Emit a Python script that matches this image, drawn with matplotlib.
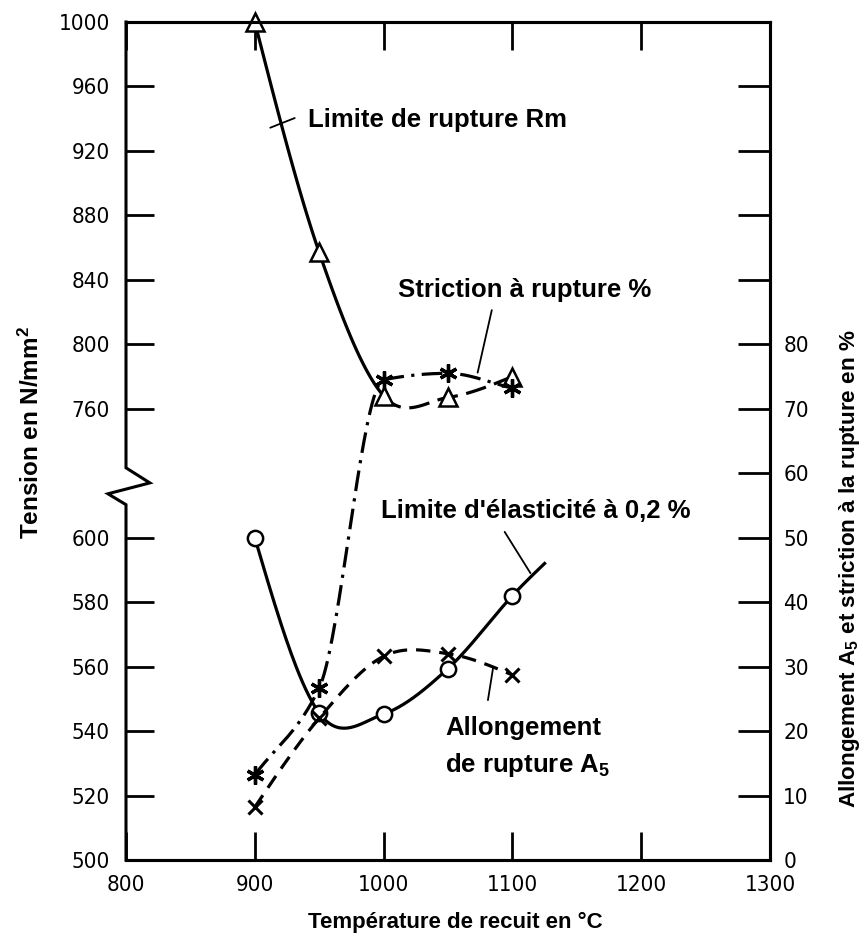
#recuit : caracteristiques mecaniques en fonction de la temperature
import numpy as np
import matplotlib
matplotlib.use('Agg')
import matplotlib.pyplot as plt
from matplotlib import font_manager as fm
from matplotlib.ticker import FixedLocator, FixedFormatter, NullLocator
from matplotlib.lines import Line2D

# temperatures de recuit (C)
temp = [900, 950, 1000, 1050, 1100]
# axe gauche, N/mm2
rm = [1000, 857, 768, 767, 780]
rp02 = [600, 545.6, 545.3, 559.4, 582]
rp02_end = [1125, 592]          # the line runs on past the last circle
# axe droit, %
a5 = [8.2, 22, 31.6, 32, 28.7]
striction = [13.2, 26.7, 74.5, 75.5, 73.2]

xticks = [800, 900, 1000, 1100, 1200, 1300]
left_ticks = [500, 520, 540, 560, 580, 600, 760, 800, 840, 880, 920, 960, 1000]
right_ticks = list(range(0, 131, 10))
right_labels = [str(v) if v <= 80 else '' for v in right_ticks]

# narrow digits if some condensed face is installed
num_family, num_stretch, num_size = 'Liberation Sans', 'normal', 16
for f in fm.fontManager.ttflist:
    if f.name == 'Liberation Sans Narrow':
        num_family, num_stretch, num_size = 'Liberation Sans Narrow', 'normal', 18
        break
    if f.name == 'DejaVu Sans' and f.stretch in ('condensed', 'semi-condensed') and f.weight in (400, 'normal'):
        num_family, num_stretch, num_size = 'DejaVu Sans', 'condensed', 16

plt.rcParams['font.family'] = ['Liberation Sans', 'DejaVu Sans']
plt.rcParams['mathtext.default'] = 'regular'

W, H = 863, 947

# broken left scale: 500-600 below, 760-1000 above
def fwd(v):
    v = np.asarray(v, float)
    return np.where(v <= 600, (v - 500) / 2,
                    np.where(v < 760, 50 + (v - 600) / 8, 70 + (v - 760) / 4))

def inv(u):
    u = np.asarray(u, float)
    return np.where(u <= 50, 500 + 2 * u,
                    np.where(u < 70, 600 + 8 * (u - 50), 760 + 4 * (u - 70)))

#smooth hermite line through the read points (drawing only)
def curve(x, y, mono=False, n=40):
    x = np.asarray(x, float)
    y = np.asarray(y, float)
    d = np.diff(y) / np.diff(x)
    m = np.zeros_like(y)
    if mono:
        for i in range(1, len(y) - 1):
            if d[i - 1] * d[i] > 0:
                m[i] = 2 / (1 / d[i - 1] + 1 / d[i])
        m[0], m[-1] = d[0], d[-1]
    else:
        m[1:-1] = (y[2:] - y[:-2]) / (x[2:] - x[:-2])
        m[0] = (3 * d[0] - m[1]) / 2
        m[-1] = (3 * d[-1] - m[-2]) / 2
    xs, ys = [], []
    t = np.linspace(0, 1, n)
    for i in range(len(x) - 1):
        h = x[i + 1] - x[i]
        h00 = 2 * t**3 - 3 * t**2 + 1
        h10 = t**3 - 2 * t**2 + t
        h01 = -2 * t**3 + 3 * t**2
        h11 = t**3 - t**2
        xs.append(x[i] + h * t)
        ys.append(h00 * y[i] + h10 * h * m[i] + h01 * y[i + 1] + h11 * h * m[i + 1])
    return np.concatenate(xs), np.concatenate(ys)

fig = plt.figure(figsize=(W / 100, H / 100), dpi=100)
fig.subplots_adjust(left=126 / W, right=770 / W, bottom=1 - 860 / H, top=1 - 22 / H)
ax = fig.add_subplot(111)
ax.set_yscale('function', functions=(fwd, inv))
ax.set_xlim(800, 1300)
ax.set_ylim(500, 1000)
axr = ax.twinx()
axr.set_ylim(0, 130)

lw = 2.3
# Rm : solid up to 1000, dashed after
sx, sy = curve(temp, rm)
ax.plot(sx[sx <= 1000], sy[sx <= 1000], color='k', lw=lw, zorder=2, clip_on=False)
ax.plot(sx[sx >= 1000], sy[sx >= 1000], color='k', lw=lw, dashes=(6.5, 2.7), zorder=2)
ax.plot(temp, rm, ls='none', marker='^', ms=12.5, mfc='white', mec='k', mew=1.8,
        zorder=6, clip_on=False)

# Rp0,2
sx, sy = curve(temp + [rp02_end[0]], rp02 + [rp02_end[1]])
ax.plot(sx, sy, color='k', lw=lw, zorder=2)
ax.plot(temp, rp02, ls='none', marker='o', ms=11, mfc='white', mec='k', mew=1.8, zorder=4)

# A5
sx, sy = curve(temp, a5)
axr.plot(sx, sy, color='k', lw=lw, dashes=(4.5, 2.8), zorder=2)
axr.plot(temp, a5, ls='none', marker='x', ms=10, mec='k', mew=2.2, zorder=4)

# striction
sx, sy = curve(temp, striction, mono=True)
axr.plot(sx, sy, color='k', lw=lw, dashes=(6.5, 2.3, 1, 2.3), zorder=2)
axr.plot(temp, striction, ls='none', marker=(6, 2, 0), ms=13, mec='k', mew=2.4, zorder=4)

# axes
for a in (ax, axr):
    a.spines['left'].set_visible(False)
    for s in ('top', 'bottom', 'right'):
        a.spines[s].set_linewidth(2.2)
ax.set_xticks(xticks)
ax.tick_params(axis='x', which='both', direction='in', top=True, bottom=True,
               length=20, width=2.0, pad=11, labelsize=num_size)
ax.yaxis.set_major_locator(FixedLocator(left_ticks))
ax.yaxis.set_major_formatter(FixedFormatter([str(v) for v in left_ticks]))
ax.yaxis.set_minor_locator(NullLocator())
ax.tick_params(axis='y', direction='in', length=20, width=2.0, pad=11.5, labelsize=num_size)
axr.yaxis.set_major_locator(FixedLocator(right_ticks))
axr.yaxis.set_major_formatter(FixedFormatter(right_labels))
axr.yaxis.set_minor_locator(NullLocator())
axr.tick_params(axis='y', direction='in', length=23, width=2.0, pad=9.5, labelsize=num_size)
for lab in ax.get_xticklabels() + ax.get_yticklabels() + axr.get_yticklabels():
    lab.set_family([num_family, 'DejaVu Sans'])
    lab.set_stretch(num_stretch)

# left spine with the zigzag break
brk = Line2D([0, 0, 0.037, -0.028, 0, 0], [1, 0.468, 0.450, 0.437, 0.424, 0],
             transform=ax.transAxes, color='k', lw=2.2, clip_on=False,
             solid_joinstyle='miter', zorder=5)
ax.add_line(brk)

# labels and callouts
tk = dict(fontsize=18.5, fontweight='bold', color='k')
lead = dict(arrowstyle='-', color='k', lw=1.3, shrinkA=0, shrinkB=0)
axr.text(941, 113.7, 'Limite de rupture Rm', **tk)
axr.annotate('', xy=(912, 113.6), xytext=(931, 115.1), arrowprops=lead)
axr.text(1011, 87.3, 'Striction à rupture %', **tk)
axr.annotate('', xy=(1073, 75.6), xytext=(1084, 85.3), arrowprops=lead)
axr.text(998, 53.1, "Limite d'élasticité à 0,2 %", **tk)
axr.annotate('', xy=(1114, 44.5), xytext=(1094, 50.9), arrowprops=lead)
axr.text(1048, 19.4, 'Allongement', **tk)
axr.text(1048, 13.6, 'de rupture A$_5$', **tk)
axr.annotate('', xy=(1085, 29.8), xytext=(1081, 24.8), arrowprops=lead)

fig.text(455 / W, 1 - 922 / H, 'Température de recuit en °C', ha='center', va='center',
         fontsize=16, fontweight='bold')
fig.text(31 / W, 1 - 432 / H, 'Tension en N/mm$^2$', rotation=90, ha='center', va='center',
         fontsize=17.5, fontweight='bold')
fig.text(849 / W, 1 - 569 / H, 'Allongement A$_5$ et striction à la rupture en %', rotation=90,
         ha='center', va='center', fontsize=16.2, fontweight='bold')

fig.savefig('out.png', dpi=100, facecolor='white')
